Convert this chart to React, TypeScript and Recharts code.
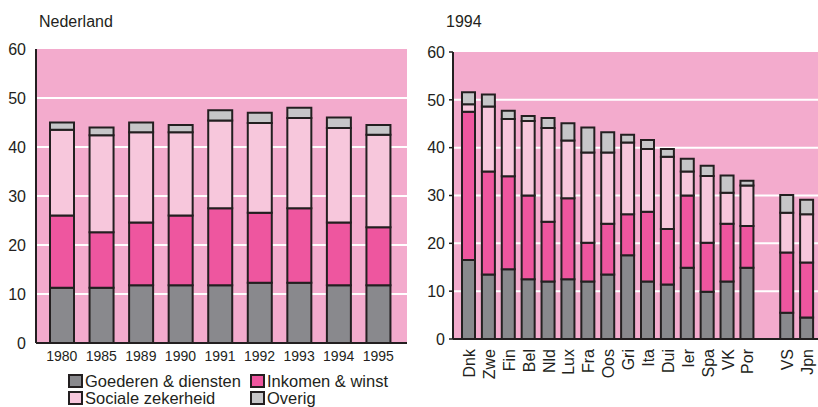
import { Bar, BarChart, CartesianGrid, XAxis, YAxis } from "recharts";

// Nederland, 1980-1995 (segment sizes, % bbp)
const years = ["1980", "1985", "1989", "1990", "1991", "1992", "1993", "1994", "1995"];
const nlGoederen = [11.3, 11.3, 11.8, 11.8, 11.8, 12.3, 12.3, 11.8, 11.8];
const nlInkomen = [14.7, 11.3, 12.8, 14.2, 15.7, 14.3, 15.2, 12.8, 11.8];
const nlSociale = [17.5, 19.8, 18.4, 17.0, 17.9, 18.3, 18.4, 19.3, 18.9];
const nlOverig = [1.5, 1.6, 2.0, 1.5, 2.1, 2.1, 2.1, 2.1, 2.0];

// landen, 1994 ("" = lege plek tussen Por en VS)
const countries = ["Dnk", "Zwe", "Fin", "Bel", "Nld", "Lux", "Fra", "Oos", "Gri", "Ita", "Dui", "Ier", "Spa", "VK", "Por", "", "VS", "Jpn"];
const cGoederen = [16.5, 13.5, 14.6, 12.5, 12, 12.5, 12, 13.5, 17.5, 12, 11.4, 14.9, 9.9, 12, 14.9, null, 5.5, 4.5];
const cInkomen = [31.0, 21.5, 19.4, 17.5, 12.5, 16.9, 8.1, 10.6, 8.6, 14.6, 11.6, 15.1, 10.2, 12.1, 8.7, null, 12.6, 11.5];
const cSociale = [1.6, 13.6, 12.0, 15.6, 19.6, 12.1, 18.9, 14.9, 15.0, 13.1, 15.1, 5.0, 14.0, 6.5, 8.5, null, 8.3, 10.1];
const cOverig = [2.5, 2.5, 1.7, 1.0, 2.1, 3.6, 5.2, 4.2, 1.6, 1.9, 1.6, 2.7, 2.1, 3.6, 1.0, null, 3.7, 3.0];

const yTicks = [0, 10, 20, 30, 40, 50, 60];

const series = [
  { key: "goederen", label: "Goederen & diensten", color: "#89898d" },
  { key: "inkomen", label: "Inkomen & winst", color: "#ee569f" },
  { key: "sociale", label: "Sociale zekerheid", color: "#f7c7dc" },
  { key: "overig", label: "Overig", color: "#c6c6c8" },
];

const nlData = years.map((name, i) => ({
  name,
  goederen: nlGoederen[i],
  inkomen: nlInkomen[i],
  sociale: nlSociale[i],
  overig: nlOverig[i],
}));

const countryData = countries.map((name, i) => ({
  name,
  goederen: cGoederen[i],
  inkomen: cInkomen[i],
  sociale: cSociale[i],
  overig: cOverig[i],
}));

const FONT = "'Liberation Sans', Arial, sans-serif";
const INK = "#231f20";
const BG = "#f3abcd";

const RotatedTick = (props: any) => {
  const { x, y, payload } = props;
  return (
    <text
      transform={`translate(${x + 6},${y + 2}) rotate(-90)`}
      textAnchor="end"
      fontSize={16}
      fontFamily={FONT}
      fill={INK}
    >
      {payload.value}
    </text>
  );
};

const bars = (size: number) =>
  series.map((s) => (
    <Bar
      key={s.key}
      dataKey={s.key}
      stackId="a"
      fill={s.color}
      stroke={INK}
      strokeWidth={2}
      barSize={size}
      isAnimationActive={false}
    />
  ));

export default function App() {
  return (
    <div
      style={{
        position: "absolute",
        left: 0,
        top: 0,
        width: 818,
        height: 407,
        background: "#fff",
        overflow: "hidden",
        fontFamily: FONT,
      }}
    >
      <div style={{ position: "absolute", left: 0, top: 0 }}>
        <BarChart width={410} height={407} data={nlData} margin={{ top: 49, right: 3, bottom: 34, left: 0 }}>
          <CartesianGrid
            vertical={false}
            horizontalValues={[10, 20, 30, 40, 50]}
            stroke="#fff"
            strokeWidth={2}
            fill={BG}
            fillOpacity={1}
          />
          <XAxis
            dataKey="name"
            height={30}
            padding={{ left: 6, right: 9 }}
            tickLine={false}
            axisLine={{ stroke: INK, strokeWidth: 2 }}
            tick={{ fontSize: 14, fill: INK, fontFamily: FONT }}
            interval={0}
          />
          <YAxis
            width={36}
            domain={[0, 60]}
            ticks={yTicks}
            tickLine={false}
            tickMargin={4}
            axisLine={{ stroke: INK, strokeWidth: 2 }}
            tick={{ fontSize: 16, fill: INK, fontFamily: FONT }}
          />
          {bars(24)}
        </BarChart>
      </div>
      <div style={{ position: "absolute", left: 410, top: 0 }}>
        <BarChart width={408} height={407} data={countryData} margin={{ top: 52, right: 0, bottom: 8, left: 0 }}>
          <CartesianGrid
            vertical={false}
            horizontalValues={[10, 20, 30, 40, 50]}
            stroke="#fff"
            strokeWidth={2}
            fill={BG}
            fillOpacity={1}
          />
          <XAxis
            dataKey="name"
            height={60}
            padding={{ left: 6, right: 1 }}
            tickLine={false}
            axisLine={{ stroke: INK, strokeWidth: 2 }}
            tick={<RotatedTick />}
            interval={0}
          />
          <YAxis
            width={43}
            domain={[0, 60]}
            ticks={yTicks}
            tickSize={4}
            tickMargin={4}
            tickLine={{ stroke: INK, strokeWidth: 1.5 }}
            axisLine={{ stroke: INK, strokeWidth: 2 }}
            tick={{ fontSize: 16, fill: INK, fontFamily: FONT }}
          />
          {bars(13)}
        </BarChart>
      </div>
      <svg
        width={818}
        height={407}
        style={{ position: "absolute", left: 0, top: 0, pointerEvents: "none" }}
        fontFamily={FONT}
        fill={INK}
      >
        <text x={39} y={27} fontSize={16}>Nederland</text>
        <text x={446} y={27} fontSize={16}>1994</text>
        {series.map((s, i) => {
          const col = i % 2;
          const row = Math.floor(i / 2);
          const bx = col === 0 ? 69 : 251;
          const by = row === 0 ? 375 : 392;
          return (
            <g key={s.key}>
              <rect x={bx} y={by} width={13} height={12} fill={s.color} stroke={INK} strokeWidth={2} />
              <text x={bx + 16} y={by + 12} fontSize={16.5}>
                {s.label}
              </text>
            </g>
          );
        })}
      </svg>
    </div>
  );
}
